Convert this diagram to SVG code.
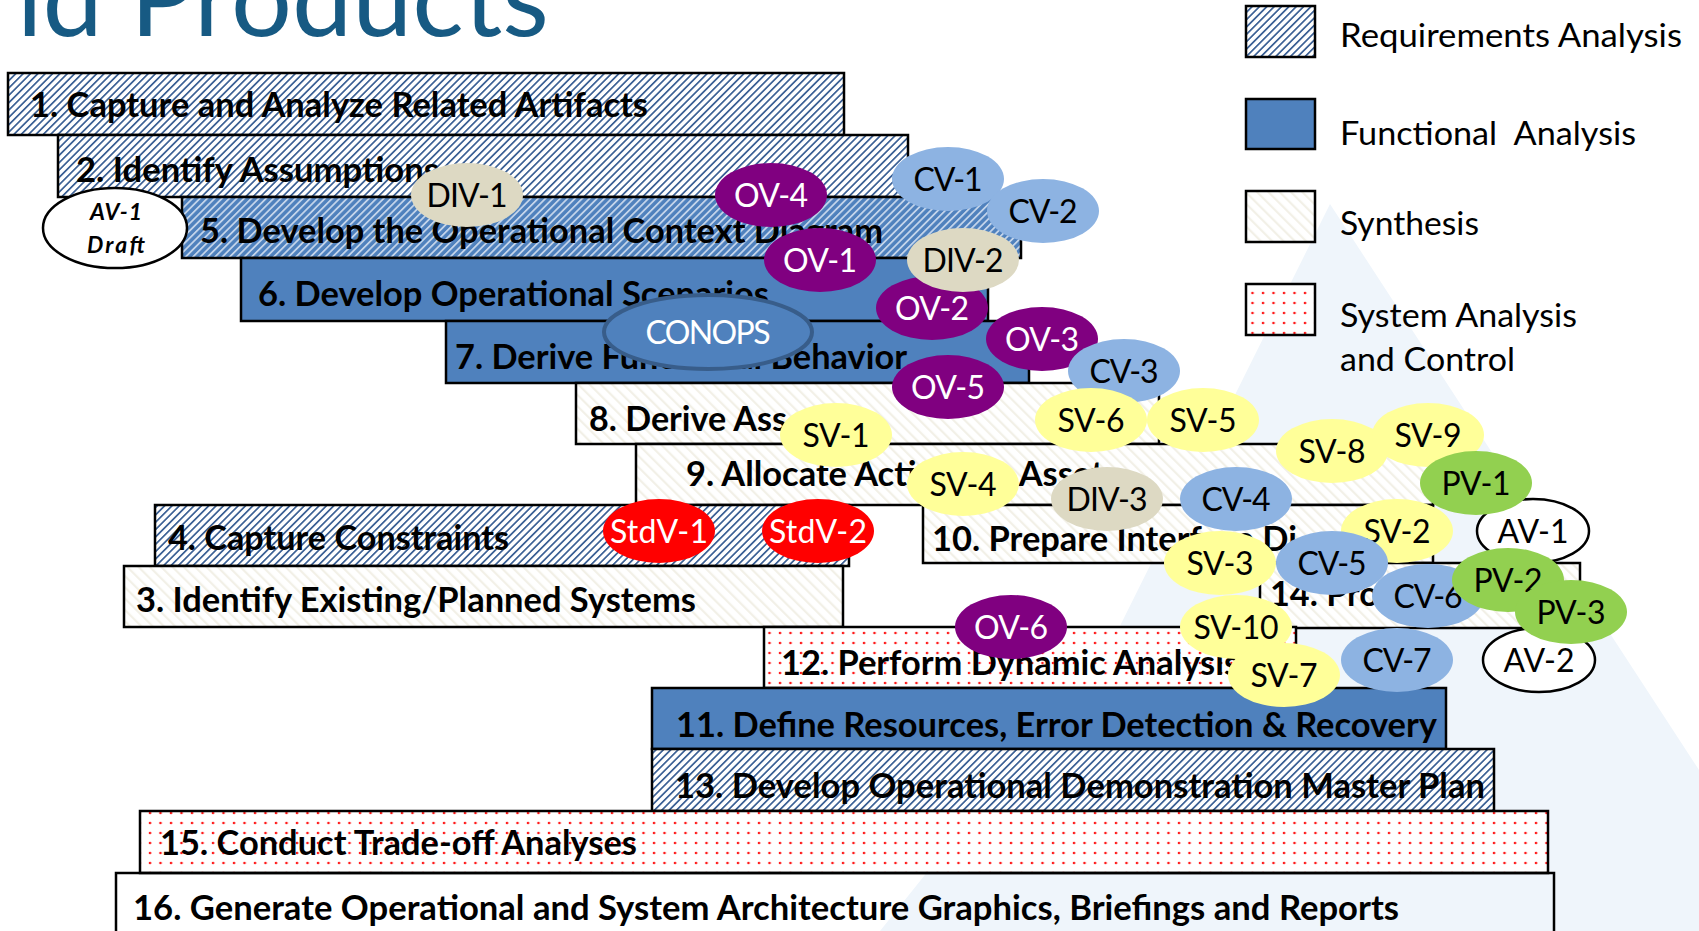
<svg xmlns="http://www.w3.org/2000/svg" width="1699" height="931" viewBox="0 0 1699 931">
  <defs>
    <!-- Requirements Analysis: dark blue upward diagonal hatch -->
    <pattern id="pat-req" width="5.2" height="5.2" patternUnits="userSpaceOnUse" patternTransform="rotate(45)">
      <rect width="5.2" height="5.2" fill="#ffffff"/>
      <rect width="1.7" height="5.2" fill="#3a5f94"/>
    </pattern>
    <!-- Requirements + Functional: blue fill with light hatch -->
    <pattern id="pat-reqfun" width="5.2" height="5.2" patternUnits="userSpaceOnUse" patternTransform="rotate(45)">
      <rect width="5.2" height="5.2" fill="#4f81bd"/>
      <rect width="1.8" height="5.2" fill="#c3d4ea"/>
    </pattern>
    <!-- Synthesis: faint tan downward diagonal -->
    <pattern id="pat-syn" width="8" height="8" patternUnits="userSpaceOnUse" patternTransform="rotate(-45)">
      <rect width="8" height="8" fill="#ffffff"/>
      <rect width="2.2" height="8" fill="#f2f0e7"/>
    </pattern>
    <!-- System Analysis and Control: red dots -->
    <pattern id="pat-sac" width="10.5" height="10" patternUnits="userSpaceOnUse">
      <rect width="10.5" height="10" fill="#ffffff"/>
      <circle cx="3" cy="3" r="1.35" fill="#ff1a1a"/>
    </pattern>
  </defs>
  <style>
    .box{stroke:#000;stroke-width:2.5}
    .req{fill:url(#pat-req)}
    .reqfun{fill:url(#pat-reqfun)}
    .fun{fill:#4f81bd}
    .syn{fill:url(#pat-syn)}
    .sac{fill:url(#pat-sac)}
    .open{fill:none}
    .lbl{font-family:Lato,"Open Sans","Liberation Sans",sans-serif;font-weight:700;font-size:34px;fill:#000}
    .leg{font-family:Lato,"Open Sans","Liberation Sans",sans-serif;font-size:33px;fill:#000}
    .tag{font-family:Lato,"Open Sans","Liberation Sans",sans-serif;font-size:32px;text-anchor:middle}
    .draft{font-family:Lato,"Open Sans",sans-serif;font-size:23px;font-weight:700;font-style:italic;text-anchor:middle}
    .dark{fill:#000}
    .light{fill:#fff}
    .ov{fill:#800080}
    .cv{fill:#8db3e2}
    .div{fill:#ddd9c3}
    .sv{fill:#ffff99}
    .pv{fill:#92d050}
    .av{fill:#fff;stroke:#000;stroke-width:2.5}
    .std{fill:#ff0000}
  </style>

  <!-- background watermark -->
  <path d="M1330,204 L1699,770 L1699,931 L880,931 L1113,640 Z" fill="#eff5fb"/>

  <!-- title -->
  <text x="17" y="36" font-family="Lato,'Open Sans',sans-serif" font-size="106" fill="#175a83" textLength="532" lengthAdjust="spacingAndGlyphs">ld Products</text>

  <!-- legend -->
  <g id="legend">
    <rect class="box req" x="1246" y="6" width="69" height="51"/>
    <text class="leg" x="1340" y="47" textLength="342" lengthAdjust="spacingAndGlyphs">Requirements Analysis</text>
    <rect class="box fun" x="1246" y="99" width="69" height="50"/>
    <text class="leg" x="1340" y="145" textLength="296" lengthAdjust="spacingAndGlyphs" xml:space="preserve">Functional  Analysis</text>
    <rect class="box syn" x="1246" y="191" width="69" height="51"/>
    <text class="leg" x="1340" y="235" textLength="139" lengthAdjust="spacingAndGlyphs">Synthesis</text>
    <rect class="box sac" x="1246" y="284" width="69" height="51"/>
    <text class="leg" x="1340" y="327" textLength="237" lengthAdjust="spacingAndGlyphs">System Analysis</text>
    <text class="leg" x="1340" y="371" textLength="175" lengthAdjust="spacingAndGlyphs">and Control</text>
  </g>

  <!-- process steps -->
  <g id="step-1"><rect class="box req" x="8" y="73" width="836" height="62"/>
    <text class="lbl" x="30" y="117" textLength="618" lengthAdjust="spacingAndGlyphs">1. Capture and Analyze Related Artifacts</text></g>
  <g id="step-2"><rect class="box req" x="58" y="135" width="850" height="62"/>
    <text class="lbl" x="76" y="182" textLength="363" lengthAdjust="spacingAndGlyphs">2. Identify Assumptions</text></g>
  <g id="step-5"><rect class="box reqfun" x="182" y="197" width="839" height="61"/>
    <text class="lbl" x="200" y="243" textLength="683" lengthAdjust="spacingAndGlyphs">5. Develop the Operational Context Diagram</text></g>
  <g id="step-6"><rect class="box fun" x="241" y="258" width="747" height="63"/>
    <text class="lbl" x="258" y="306" textLength="511" lengthAdjust="spacingAndGlyphs">6. Develop Operational Scenarios</text></g>
  <g id="step-7"><rect class="box fun" x="446" y="321" width="583" height="62"/>
    <text class="lbl" x="455" y="369" textLength="452" lengthAdjust="spacingAndGlyphs">7. Derive Functional Behavior</text></g>
  <g id="step-8"><rect class="box syn" x="576" y="383" width="583" height="61"/>
    <text class="lbl" x="589" y="431" textLength="198" lengthAdjust="spacingAndGlyphs">8. Derive Ass</text></g>
  <g id="step-9"><rect class="box syn" x="636" y="444" width="797" height="61"/>
    <text class="lbl" x="686" y="486" textLength="433" lengthAdjust="spacingAndGlyphs">9. Allocate Actions to Assets</text></g>
  <g id="step-4"><rect class="box req" x="155" y="505" width="694" height="61"/>
    <text class="lbl" x="168" y="550" textLength="341" lengthAdjust="spacingAndGlyphs">4. Capture Constraints</text></g>
  <g id="step-10"><rect class="box syn" x="923" y="505" width="510" height="58"/>
    <text class="lbl" x="932" y="551" textLength="365" lengthAdjust="spacingAndGlyphs">10. Prepare Interface Di</text></g>
  <g id="step-3"><rect class="box syn" x="124" y="566" width="719" height="61"/>
    <text class="lbl" x="136" y="612" textLength="560" lengthAdjust="spacingAndGlyphs">3. Identify Existing/Planned Systems</text></g>
  <g id="step-14"><rect class="box syn" x="1260" y="563" width="320" height="65"/>
    <text class="lbl" x="1270" y="606" textLength="109" lengthAdjust="spacingAndGlyphs">14. Pro</text></g>
  <g id="step-12"><rect class="box sac" x="764" y="627" width="532" height="61"/>
    <text class="lbl" x="781" y="675" textLength="458" lengthAdjust="spacingAndGlyphs">12. Perform Dynamic Analysis</text></g>
  <g id="step-11"><rect class="box fun" x="652" y="688" width="794" height="61"/>
    <text class="lbl" x="676" y="737" textLength="761" lengthAdjust="spacingAndGlyphs">11. Define Resources, Error Detection &amp; Recovery</text></g>
  <g id="step-13"><rect class="box req" x="652" y="749" width="842" height="62"/>
    <text class="lbl" x="675" y="798" textLength="810" lengthAdjust="spacingAndGlyphs">13. Develop Operational Demonstration Master Plan</text></g>
  <g id="step-15"><rect class="box sac" x="140" y="811" width="1408" height="62"/>
    <text class="lbl" x="160" y="855" textLength="477" lengthAdjust="spacingAndGlyphs">15. Conduct Trade-off Analyses</text></g>
  <g id="step-16"><rect class="box open" x="116" y="873" width="1438" height="70"/>
    <text class="lbl" x="133" y="920" textLength="1266" lengthAdjust="spacingAndGlyphs">16. Generate Operational and System Architecture Graphics, Briefings and Reports</text></g>

  <!-- architecture products -->
  <g id="div-1"><ellipse class="div" cx="467" cy="195" rx="56" ry="32"/><text class="tag dark" x="467" y="207" textLength="81">DIV-1</text></g>
  <g id="ov-4"><ellipse class="ov" cx="771" cy="195" rx="56" ry="32"/><text class="tag light" x="771" y="207" textLength="74">OV-4</text></g>
  <g id="cv-1"><ellipse class="cv" cx="948" cy="179" rx="56" ry="32"/><text class="tag dark" x="948" y="191" textLength="69">CV-1</text></g>
  <g id="cv-2"><ellipse class="cv" cx="1043" cy="211" rx="56" ry="32"/><text class="tag dark" x="1043" y="223" textLength="69">CV-2</text></g>
  <g id="ov-2"><ellipse class="ov" cx="932" cy="308" rx="56" ry="32"/><text class="tag light" x="932" y="320" textLength="74">OV-2</text></g>
  <g id="ov-1"><ellipse class="ov" cx="820" cy="260" rx="56" ry="32"/><text class="tag light" x="820" y="272" textLength="74">OV-1</text></g>
  <g id="div-2"><ellipse class="div" cx="963" cy="260" rx="56" ry="32"/><text class="tag dark" x="963" y="272" textLength="81">DIV-2</text></g>
  <g id="conops"><ellipse cx="708" cy="332" rx="104" ry="37" fill="#4f81bd" stroke="#385d8a" stroke-width="4"/><text class="tag light" x="708" y="344" textLength="125">CONOPS</text></g>
  <g id="ov-3"><ellipse class="ov" cx="1042" cy="339" rx="56" ry="32"/><text class="tag light" x="1042" y="351" textLength="74">OV-3</text></g>
  <g id="ov-5"><ellipse class="ov" cx="948" cy="387" rx="56" ry="32"/><text class="tag light" x="948" y="399" textLength="74">OV-5</text></g>
  <g id="cv-3"><ellipse class="cv" cx="1124" cy="371" rx="56" ry="32"/><text class="tag dark" x="1124" y="383" textLength="69">CV-3</text></g>
  <g id="sv-6"><ellipse class="sv" cx="1091" cy="420" rx="56" ry="32"/><text class="tag dark" x="1091" y="432" textLength="67">SV-6</text></g>
  <g id="sv-5"><ellipse class="sv" cx="1203" cy="420" rx="56" ry="32"/><text class="tag dark" x="1203" y="432" textLength="67">SV-5</text></g>
  <g id="sv-1"><ellipse class="sv" cx="836" cy="435" rx="56" ry="32"/><text class="tag dark" x="836" y="447" textLength="67">SV-1</text></g>
  <g id="sv-4"><ellipse class="sv" cx="963" cy="484" rx="56" ry="32"/><text class="tag dark" x="963" y="496" textLength="67">SV-4</text></g>
  <g id="div-3"><ellipse class="div" cx="1107" cy="499" rx="56" ry="32"/><text class="tag dark" x="1107" y="511" textLength="81">DIV-3</text></g>
  <g id="cv-4"><ellipse class="cv" cx="1236" cy="499" rx="56" ry="32"/><text class="tag dark" x="1236" y="511" textLength="69">CV-4</text></g>
  <g id="sv-8"><ellipse class="sv" cx="1332" cy="451" rx="56" ry="32"/><text class="tag dark" x="1332" y="463" textLength="67">SV-8</text></g>
  <g id="sv-9"><ellipse class="sv" cx="1428" cy="435" rx="56" ry="32"/><text class="tag dark" x="1428" y="447" textLength="67">SV-9</text></g>
  <g id="av-1"><ellipse class="av" cx="1533" cy="531" rx="56" ry="32"/><text class="tag dark" x="1533" y="543" textLength="71">AV-1</text></g>
  <g id="pv-1"><ellipse class="pv" cx="1476" cy="483" rx="56" ry="32"/><text class="tag dark" x="1476" y="495" textLength="69">PV-1</text></g>
  <g id="sv-2"><ellipse class="sv" cx="1397" cy="531" rx="56" ry="32"/><text class="tag dark" x="1397" y="543" textLength="67">SV-2</text></g>
  <g id="sv-3"><ellipse class="sv" cx="1220" cy="563" rx="56" ry="32"/><text class="tag dark" x="1220" y="575" textLength="67">SV-3</text></g>
  <g id="cv-5"><ellipse class="cv" cx="1332" cy="563" rx="56" ry="32"/><text class="tag dark" x="1332" y="575" textLength="69">CV-5</text></g>
  <g id="cv-6"><ellipse class="cv" cx="1428" cy="596" rx="56" ry="32"/><text class="tag dark" x="1428" y="608" textLength="69">CV-6</text></g>
  <g id="pv-2"><ellipse class="pv" cx="1508" cy="580" rx="56" ry="32"/><text class="tag dark" x="1508" y="592" textLength="69">PV-2</text></g>
  <g id="av-2"><ellipse class="av" cx="1539" cy="660" rx="56" ry="32"/><text class="tag dark" x="1539" y="672" textLength="71">AV-2</text></g>
  <g id="pv-3"><ellipse class="pv" cx="1571" cy="612" rx="56" ry="32"/><text class="tag dark" x="1571" y="624" textLength="69">PV-3</text></g>
  <g id="ov-6"><ellipse class="ov" cx="1011" cy="627" rx="56" ry="32"/><text class="tag light" x="1011" y="639" textLength="74">OV-6</text></g>
  <g id="sv-10"><ellipse class="sv" cx="1236" cy="627" rx="56" ry="32"/><text class="tag dark" x="1236" y="639" textLength="85">SV-10</text></g>
  <g id="sv-7"><ellipse class="sv" cx="1284" cy="675" rx="56" ry="32"/><text class="tag dark" x="1284" y="687" textLength="67">SV-7</text></g>
  <g id="cv-7"><ellipse class="cv" cx="1397" cy="660" rx="56" ry="32"/><text class="tag dark" x="1397" y="672" textLength="69">CV-7</text></g>
  <g id="stdv-1"><ellipse class="std" cx="659" cy="531" rx="56" ry="32"/><text class="tag light" x="659" y="543" textLength="98">StdV-1</text></g>
  <g id="stdv-2"><ellipse class="std" cx="818" cy="531" rx="56" ry="32"/><text class="tag light" x="818" y="543" textLength="98">StdV-2</text></g>
  <g id="av-1-draft"><ellipse class="av" cx="115" cy="228" rx="72" ry="40"/>
    <text class="draft" x="116" y="220" textLength="52">AV-1</text>
    <text class="draft" x="116" y="253" textLength="58">Draft</text></g>
</svg>
